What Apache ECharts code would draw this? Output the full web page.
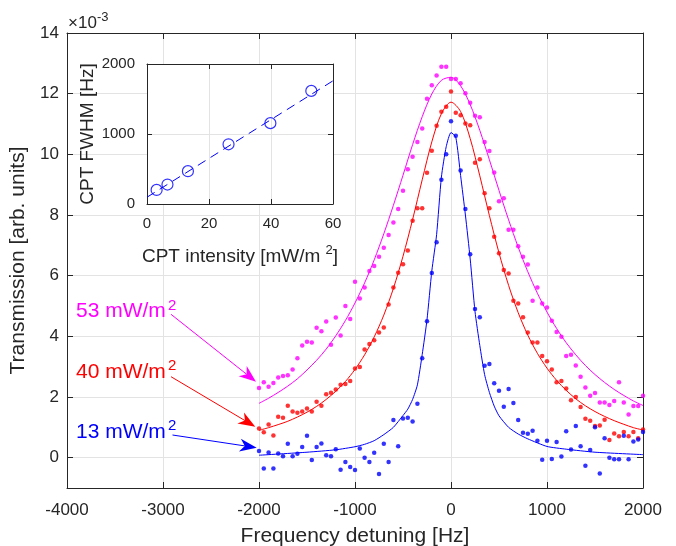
<!DOCTYPE html>
<html><head><meta charset="utf-8">
<script src="https://cdn.jsdelivr.net/npm/echarts@6/dist/echarts.min.js"></script>
<style>html,body{margin:0;padding:0;background:#fff}#c{width:676px;height:546px}</style>
</head><body><div id="c"></div>
<script>
// ---- data (transmission in units of 1e-3) ----
const detuning = [-2000,-1950,-1900,-1850,-1800,-1750,-1700,-1650,-1600,-1550,-1500,-1450,-1400,-1350,-1300,-1250,-1200,-1150,-1100,-1050,-1000,-950,-900,-850,-800,-750,-700,-650,-600,-550,-500,-450,-400,-350,-300,-250,-200,-150,-100,-50,0,50,100,150,200,250,300,350,400,450,500,550,600,650,700,750,800,850,900,950,1000,1050,1100,1150,1200,1250,1300,1350,1400,1450,1500,1550,1600,1650,1700,1750,1800,1850,1900,1950,2000];
const magentaPts = [2.30,2.49,2.34,2.46,2.64,2.69,2.72,2.91,3.28,3.70,3.82,3.80,4.28,4.17,4.49,3.72,4.62,4.03,5.00,4.57,5.80,5.25,5.61,6.15,6.32,6.62,6.92,7.34,7.75,8.20,8.80,9.51,9.92,10.41,10.85,11.83,12.28,12.60,12.89,12.89,12.48,12.48,12.34,12.01,11.70,11.27,11.22,10.41,10.11,9.40,8.45,8.55,7.51,7.51,6.97,6.62,6.37,5.17,5.61,5.08,4.95,4.51,4.14,3.99,3.35,3.39,3.04,2.67,2.31,2.04,2.13,1.82,1.82,1.74,1.87,2.49,1.82,1.42,1.70,1.70,2.04];
const redPts = [0.96,0.84,1.09,0.73,1.35,1.32,1.71,1.52,1.48,1.52,1.62,1.52,1.84,1.71,2.09,2.14,2.25,2.40,2.43,2.53,2.94,2.99,3.57,3.75,3.87,4.13,4.29,5.05,5.61,6.10,6.38,6.83,7.81,8.22,8.22,9.39,10.12,10.94,11.40,11.57,12.07,11.37,11.29,11.02,10.96,9.72,9.84,8.72,8.22,7.28,6.74,6.19,6.07,5.17,5.08,4.63,4.13,3.80,3.80,3.35,3.18,2.91,2.49,2.53,2.28,1.89,2.00,1.67,1.28,1.22,1.04,1.06,1.25,0.58,0.80,0.71,0.85,0.71,0.85,0.64,0.93];
const bluePts = [0.22,-0.36,0.17,-0.36,0.14,0.05,0.46,0.05,0.13,0.35,0.72,-0.08,0.35,0.47,0.08,0.05,0.28,-0.40,-0.14,-0.31,-0.41,0.30,0.00,-0.14,0.16,-0.54,0.46,-0.14,1.24,0.38,1.29,1.32,1.19,1.78,3.28,4.50,6.09,7.10,9.16,10.00,11.09,10.61,9.47,8.20,6.71,4.90,4.63,3.03,3.09,2.45,2.21,1.68,2.26,1.80,1.24,0.82,0.79,0.89,0.56,-0.07,0.56,-0.04,0.52,0.04,0.87,0.27,1.04,0.38,-0.27,0.25,1.00,-0.52,0.64,0.00,-0.05,-0.05,0.72,-0.05,0.53,0.60,0.85];

const fitFreq = [-2000,-1900,-1800,-1700,-1600,-1500,-1400,-1300,-1200,-1100,-1000,-900,-800,-700,-600,-500,-400,-300,-200,-100,0,100,200,300,400,500,600,700,800,900,1000,1100,1200,1300,1400,1500,1600,1700,1800,1900,2000];
const magentaFit = [1.79,1.96,2.15,2.36,2.60,2.89,3.21,3.58,4.02,4.52,5.10,5.76,6.52,7.38,8.32,9.31,10.32,11.24,11.99,12.44,12.54,12.26,11.64,10.79,9.82,8.81,7.84,6.94,6.13,5.42,4.80,4.26,3.79,3.39,3.04,2.74,2.48,2.25,2.05,1.87,1.72];
const redFit = [0.90,0.99,1.09,1.20,1.34,1.50,1.69,1.92,2.19,2.51,2.91,3.39,3.98,4.70,5.58,6.64,7.85,9.16,10.41,11.34,11.72,11.41,10.52,9.29,7.98,6.75,5.68,4.78,4.04,3.44,2.95,2.55,2.22,1.94,1.71,1.52,1.36,1.22,1.10,0.99,0.91];
const blueFitFreq = [-2000,-1500,-1200,-1000,-900,-800,-700,-600,-500,-450,-400,-350,-300,-250,-200,-150,-100,-50,0,50,100,150,200,250,300,350,400,450,500,600,700,800,1000,1200,1500,2000];
const blueFit = [0.08,0.18,0.26,0.36,0.44,0.56,0.76,1.00,1.39,1.60,1.92,2.40,3.40,4.55,6.15,7.35,9.25,10.25,10.72,10.56,9.30,8.00,6.55,4.82,3.70,2.74,2.15,1.70,1.38,1.00,0.78,0.62,0.37,0.28,0.18,0.10];

const insetIntensity = [3.1,6.6,13.2,26.3,39.8,53.0];
const insetFWHM = [201,278,469,853,1155,1616];
const insetFitX = [0,60];
const insetFitY = [97,1760];

const yTickValues = [0,2,4,6,8,10,12,14];
const labelTexts = ['53 mW/m','40 mW/m','13 mW/m'];

// ---- chart ----
const FONT = '"Liberation Sans", Arial, Helvetica, sans-serif';
const AX = '#262626';
const GRIDC = '#e3e3e3';
const MAG = '#ff00ff', RED = '#ff0000', BLU = '#0000ff';
const zip = (a, b) => a.map((v, i) => [v, b[i]]);
const plain = v => String(v);

function arrow(x1, y1, x2, y2, color) {
  const dx = x2 - x1, dy = y2 - y1, L = Math.hypot(dx, dy);
  const ux = dx / L, uy = dy / L, px = -uy, py = ux;
  const len = 17, hw = 6.5, notch = 12;
  const bx = x2 - ux * len, by = y2 - uy * len;
  const nx = x2 - ux * notch, ny = y2 - uy * notch;
  return [
    { type: 'line', z: 50, shape: { x1: x1, y1: y1, x2: nx, y2: ny }, style: { stroke: color, lineWidth: 1 } },
    { type: 'polygon', z: 50, shape: { points: [[x2, y2], [bx + px * hw, by + py * hw], [nx, ny], [bx - px * hw, by - py * hw]] }, style: { fill: color } }
  ];
}
function txt(x, y, s, size, color) {
  return { type: 'text', z: 50, x: x, y: y, style: { text: s, fill: color, font: size + 'px ' + FONT, align: 'left', verticalAlign: 'middle' } };
}

const mainAxisCommon = {
  axisLine: { onZero: false, lineStyle: { color: AX, width: 1 } },
  axisTick: { inside: true, length: 6, lineStyle: { color: AX } }
};

const option = {
  animation: false,
  backgroundColor: '#fff',
  textStyle: { fontFamily: FONT },
  grid: [
    { left: 67, top: 33, right: 33, bottom: 58, z: 0, containLabel: false, outerBoundsMode: 'none' },
    { left: 147, top: 64, width: 186, height: 140, show: true, backgroundColor: '#fff', borderWidth: 0, z: 5, containLabel: false, outerBoundsMode: 'none' }
  ],
  xAxis: [
    Object.assign({ gridIndex: 0, type: 'value', min: -4000, max: 2000, interval: 1000, position: 'bottom',
      axisLabel: { color: AX, fontSize: 17, margin: 14, fontFamily: FONT, formatter: plain },
      splitLine: { show: true, lineStyle: { color: GRIDC, width: 1 } },
      name: 'Frequency detuning [Hz]', nameLocation: 'middle', nameGap: 38,
      nameTextStyle: { color: AX, fontSize: 21, fontFamily: FONT } }, mainAxisCommon),
    Object.assign({ gridIndex: 0, type: 'value', min: -4000, max: 2000, interval: 1000, position: 'top',
      axisLabel: { show: false }, splitLine: { show: false } }, mainAxisCommon),
    { gridIndex: 1, type: 'value', min: 0, max: 60, interval: 20, position: 'bottom', z: 6,
      axisLine: { onZero: false, lineStyle: { color: AX } },
      axisTick: { inside: true, length: 5, lineStyle: { color: AX } },
      axisLabel: { color: AX, fontSize: 15, margin: 12, fontFamily: FONT, formatter: plain },
      splitLine: { show: true, lineStyle: { color: GRIDC } },
      name: '{n|CPT intensity [mW/m }{s|2}{n|]}', nameLocation: 'middle', nameGap: 40,
      nameTextStyle: { rich: {
        n: { fontSize: 19, color: AX, fontFamily: FONT },
        s: { fontSize: 13, color: AX, fontFamily: FONT, padding: [0, 0, 12, 0] } } } },
    { gridIndex: 1, type: 'value', min: 0, max: 60, interval: 20, position: 'top', z: 6,
      axisLine: { onZero: false, lineStyle: { color: AX } },
      axisTick: { inside: true, length: 5, lineStyle: { color: AX } },
      axisLabel: { show: false }, splitLine: { show: false } }
  ],
  yAxis: [
    Object.assign({ gridIndex: 0, type: 'value', min: -1, max: 14, splitNumber: 7, position: 'left',
      axisLabel: { color: AX, fontSize: 17, margin: 8, fontFamily: FONT, customValues: yTickValues, formatter: plain },
      splitLine: { show: true, lineStyle: { color: GRIDC, width: 1 } },
      name: 'Transmission [arb. units]', nameLocation: 'middle', nameGap: 29,
      nameTextStyle: { color: AX, fontSize: 21, fontFamily: FONT } }, mainAxisCommon,
      { axisTick: { inside: true, length: 6, lineStyle: { color: AX }, customValues: yTickValues } }),
    Object.assign({ gridIndex: 0, type: 'value', min: -1, max: 14, splitNumber: 7, position: 'right',
      axisLabel: { show: false }, splitLine: { show: false } }, mainAxisCommon,
      { axisTick: { inside: true, length: 6, lineStyle: { color: AX }, customValues: yTickValues } }),
    { gridIndex: 1, type: 'value', min: 0, max: 2000, interval: 1000, position: 'left', z: 6,
      axisLine: { onZero: false, lineStyle: { color: AX } },
      axisTick: { inside: true, length: 5, lineStyle: { color: AX } },
      axisLabel: { color: AX, fontSize: 15, margin: 12, fontFamily: FONT, formatter: plain },
      splitLine: { show: true, lineStyle: { color: GRIDC } },
      name: 'CPT FWHM [Hz]', nameLocation: 'middle', nameGap: 50,
      nameTextStyle: { color: AX, fontSize: 19, fontFamily: FONT } },
    { gridIndex: 1, type: 'value', min: 0, max: 2000, interval: 1000, position: 'right', z: 6,
      axisLine: { onZero: false, lineStyle: { color: AX } },
      axisTick: { inside: true, length: 5, lineStyle: { color: AX } },
      axisLabel: { show: false }, splitLine: { show: false } }
  ],
  series: [
    { type: 'line', xAxisIndex: 0, yAxisIndex: 0, data: zip(fitFreq, magentaFit), smooth: 0.3, showSymbol: false, lineStyle: { color: MAG, width: 1 }, z: 2 },
    { type: 'line', xAxisIndex: 0, yAxisIndex: 0, data: zip(fitFreq, redFit), smooth: 0.3, showSymbol: false, lineStyle: { color: RED, width: 1 }, z: 2 },
    { type: 'line', xAxisIndex: 0, yAxisIndex: 0, data: zip(blueFitFreq, blueFit), smooth: 0.2, showSymbol: false, lineStyle: { color: BLU, width: 1 }, z: 2 },
    { type: 'scatter', xAxisIndex: 0, yAxisIndex: 0, data: zip(detuning, magentaPts), symbol: 'circle', symbolSize: 4.5, itemStyle: { color: MAG }, z: 3 },
    { type: 'scatter', xAxisIndex: 0, yAxisIndex: 0, data: zip(detuning, redPts), symbol: 'circle', symbolSize: 4.5, itemStyle: { color: RED }, z: 3 },
    { type: 'scatter', xAxisIndex: 0, yAxisIndex: 0, data: zip(detuning, bluePts), symbol: 'circle', symbolSize: 4.5, itemStyle: { color: BLU }, z: 3 },
    { type: 'line', xAxisIndex: 2, yAxisIndex: 2, data: zip(insetFitX, insetFitY), showSymbol: false, lineStyle: { color: BLU, width: 1, type: [9, 6] }, z: 7 },
    { type: 'scatter', xAxisIndex: 2, yAxisIndex: 2, data: zip(insetIntensity, insetFWHM), symbol: 'circle', symbolSize: 11,
      itemStyle: { color: 'rgba(0,0,0,0)', borderColor: BLU, borderWidth: 1.2 }, z: 8 }
  ],
  graphic: [
    txt(68, 23.5, '\u00d710', 17, AX),
    txt(97, 17.5, '-3', 13, AX),
    txt(76, 311, labelTexts[0], 21, MAG), txt(168, 306, '2', 15, MAG),
    txt(76, 372, labelTexts[1], 21, RED), txt(168, 366, '2', 15, RED),
    txt(76, 432, labelTexts[2], 21, BLU), txt(168, 425.5, '2', 15, BLU),
    ...arrow(171, 314.3, 256, 381.7, MAG),
    ...arrow(171, 376.7, 255.3, 426.7, RED),
    ...arrow(172.5, 435, 256.7, 447.7, BLU)
  ]
};

const chart = echarts.init(document.getElementById('c'), null, { renderer: 'canvas', width: 676, height: 546 });
chart.setOption(option);
</script>
</body></html>
